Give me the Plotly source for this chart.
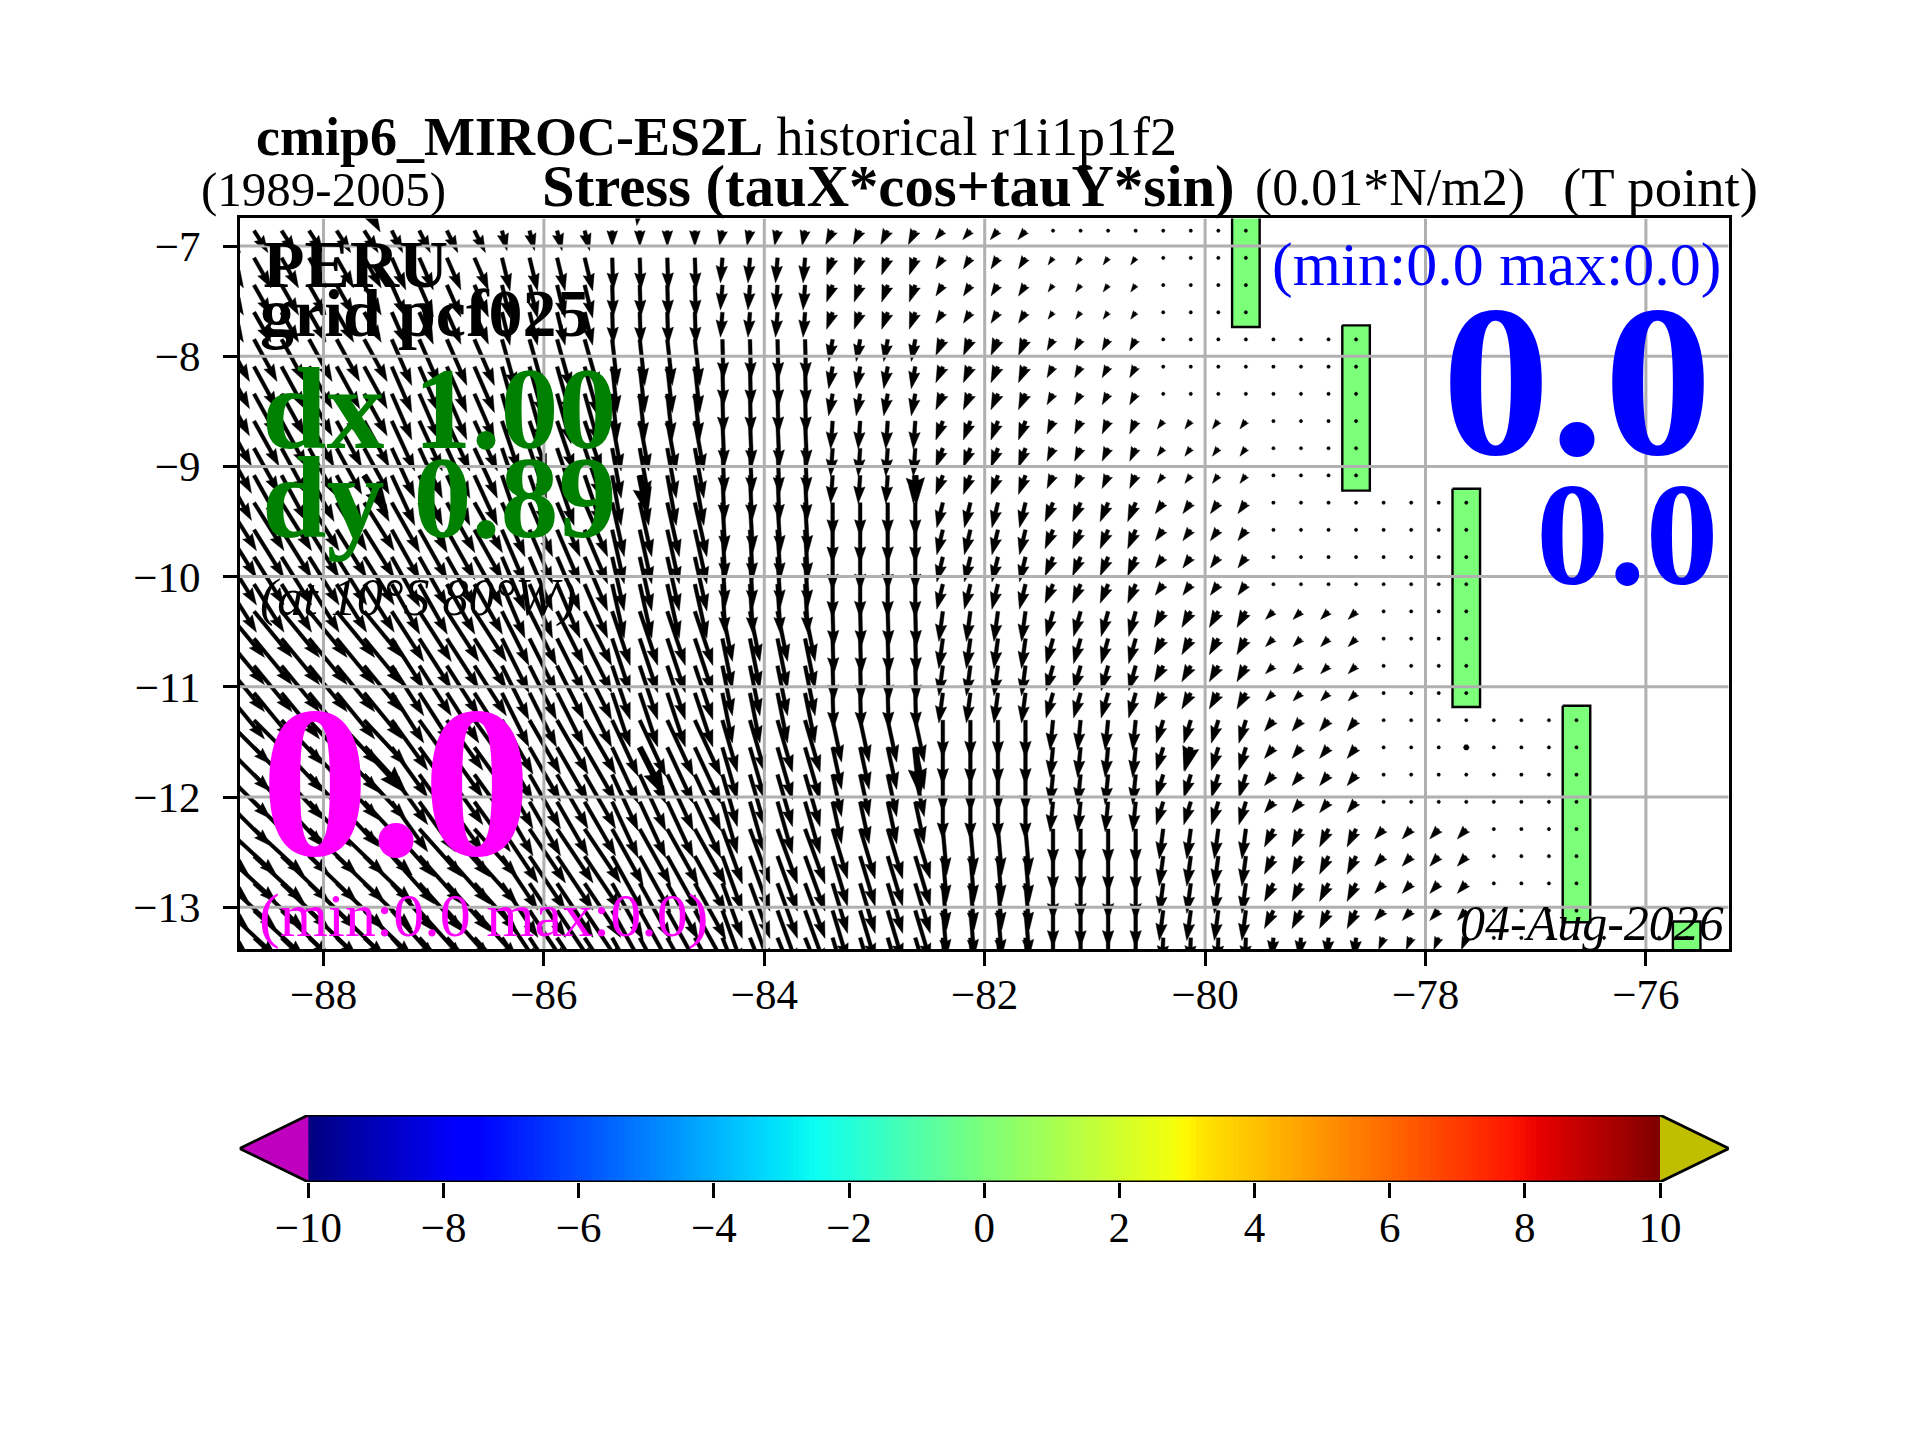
import numpy as np
import plotly.graph_objects as go

# ---------- data ----------
# longitude of the last column of every coarse model cell (each spans four 0.25 degree columns)
cell_lons = [-88.63, -87.63, -86.63, -85.63, -84.63, -83.63, -82.63,
             -81.63, -80.63, -79.63, -78.63, -77.63, -76.63, -75.63]
# how many of the fine rows belong to every coarse row, from north to south
cell_rows = [1, 3, 3, 3, 4, 4, 4, 4, 1]
first_lat = -6.861
row_step = 0.2468
col_step = 0.25
_ = None
tau_u_0 = [14, 14, 11, 5, 0, -3, -7, -7.7, 0, 0, _, _, _, _]
tau_v_0 = [22, 22, 22, 20, 16, 15, 14, 9, 0, 0, _, _, _, _]
tau_u_1 = [17, 17, 14, 8, 1, -2, -6, -7, -5, 0, _, _, _, _]
tau_v_1 = [30, 30, 32, 33, 32, 25, 17, 11, 7, 0, _, _, _, _]
tau_u_2 = [23, 23, 20, 14, 5, 1, -4, -7, -6, 0, 0, _, _, _]
tau_v_2 = [42, 42, 46, 50, 46, 40, 22, 16, 11, 0, 0, _, _, _]
tau_u_3 = [25, 25, 23, 17, 9, 2, -2, -7, -6, -6, 0, _, _, _]
tau_v_3 = [45, 46, 50, 50, 50, 46, 28, 19, 13, 8, 0, _, _, _]
tau_u_4 = [30, 30, 28, 23, 12, 3, 0, -6, -8, -8, 0, 0, _, _]
tau_v_4 = [48, 48, 50, 54, 54, 50, 34, 25, 19, 11, 0, 0, _, _]
tau_u_5 = [38, 38, 32, 27, 18, 10, 1, -4, -7, -9, -8, 0, _, _]
tau_v_5 = [46, 46, 50, 54, 54, 50, 36, 30, 25, 16, 8, 0, _, _]
tau_u_6 = [44, 42, 36, 31, 26, 15, 9, 0, -3, -7, -9, 0, 0, _]
tau_v_6 = [44, 45, 50, 54, 56, 52, 42, 38, 30, 23, 11, 0, 0, _]
tau_u_7 = [50, 48, 43, 36, 31, 20, 15, 4, 0, -4, -9, -9, 0, _]
tau_v_7 = [46, 46, 48, 54, 56, 55, 50, 46, 37, 30, 18, 10, 0, _]
tau_u_8 = [50, 48, 43, 36, 31, 22, 15, 4, 0, -1, -2, -5, 0, 0]
tau_v_8 = [46, 46, 48, 54, 56, 55, 50, 46, 37, 25, 20, 12, 0, 0]
tau_u = [tau_u_0, tau_u_1, tau_u_2, tau_u_3, tau_u_4, tau_u_5, tau_u_6, tau_u_7, tau_u_8]
tau_v = [tau_v_0, tau_v_1, tau_v_2, tau_v_3, tau_v_4, tau_v_5, tau_v_6, tau_v_7, tau_v_8]

# second, heavier set of arrows on a 2.5 degree raster
thick_lon = [-87.63, -85.13, -87.63, -85.13, -82.63, -87.63, -85.13, -82.63, -80.13, -77.63]
thick_lat = [-6.614, -6.614, -9.082, -9.082, -9.082, -11.55, -11.55, -11.55, -11.55, -11.55]
thick_u = [16, -3, 24, 8, 1, 42, 25, 5, -6, 0]
thick_v = [28.5, 22, 38, 40, 30, 46, 49, 49, 24, 0]

# cells drawn in the mid colour of the scale
land_west = [-79.755, -78.755, -77.755, -76.755, -75.755]
land_east = [-79.505, -78.505, -77.505, -76.505, -75.505]
land_north = [-6.5, -7.72, -9.203, -11.172, -13.13]
land_south = [-7.735, -9.22, -11.183, -13.136, -13.6]

x_ticks = [-88, -86, -84, -82, -80, -78, -76]
y_ticks = [-7, -8, -9, -10, -11, -12, -13]
bar_ticks = [-10, -8, -6, -4, -2, 0, 2, 4, 6, 8, 10]
jet_stops = [[0, '#00007f'], [0.11, '#0000ff'], [0.125, '#0000ff'], [0.34, '#00dbff'],
             [0.35, '#00e5f7'], [0.375, '#0cfff3'], [0.5, '#7cff79'], [0.64, '#f3ff0c'],
             [0.65, '#fff800'], [0.66, '#ffe600'], [0.89, '#ff1600'], [0.91, '#e80000'],
             [1, '#7f0000']]

# ---------- layout constants ----------
W, H = 1920, 1440
OX, OY = -8, -8   # the page body has an 8 px margin
PX_PER_DEG = 110.2
AX_L, AX_R, AX_T, AX_B = 239.8, 1728.6, 218.4, 949.0
X_RANGE = [-88 + (AX_L - 323.5) / PX_PER_DEG, -88 + (AX_R - 323.5) / PX_PER_DEG]
Y_RANGE = [-7 - (AX_B - 246.0) / PX_PER_DEG, -7 - (AX_T - 246.0) / PX_PER_DEG]
SERIF = 'Liberation Serif'
AXW = 2.6


def arrows(lons, lats, us, vs, width):
    """quiver polygons; us/vs are in picture pixels, width too."""
    xs, ys = [], []
    hl, hal, hw = 4.6, 4.2, 3.1
    for lon, lat, u, v in zip(lons, lats, us, vs):
        length = float(np.hypot(u, v)) / width
        if length < 1.0:
            th = np.arange(0, 7) * np.pi / 3
            px = np.cos(th) * 0.5
            py = np.sin(th) * 0.5
            ca, sa = 1.0, 0.0
        else:
            if length >= hl:
                px = np.array([0, length - hal, length - hl, length, length - hl, length - hal, 0, 0])
                py = 0.5 * np.array([1, 1, hw, 0, -hw, -1, -1, 1])
            else:
                s = length / hl
                px = s * np.array([0, hl - hal, 0, hl, 0, hl - hal, 0, 0])
                py = s * 0.5 * np.array([1, 1, hw, 0, -hw, -1, -1, 1])
            ca, sa = u / (length * width), -v / (length * width)
        dx = (px * ca - py * sa) * width / PX_PER_DEG
        dy = (px * sa + py * ca) * width / PX_PER_DEG
        xs += list(lon + dx) + [None]
        ys += list(lat + dy) + [None]
    return xs, ys


fine_lon, fine_lat, fine_u, fine_v = [], [], [], []
row = 0
for b, n in enumerate(cell_rows):
    for _r in range(n):
        lat = first_lat - row_step * row
        row += 1
        for g, end_lon in enumerate(cell_lons):
            if tau_u[b][g] is None:
                continue
            for k in range(4):
                fine_lon.append(end_lon - col_step * k)
                fine_lat.append(lat)
                fine_u.append(tau_u[b][g])
                fine_v.append(tau_v[b][g])

fig = go.Figure()

# land cells
lx, ly = [], []
for w, e, n, s in zip(land_west, land_east, land_north, land_south):
    lx += [w, e, e, w, w, None]
    ly += [n, n, s, s, n, None]
fig.add_trace(go.Scatter(x=lx, y=ly, mode='lines', fill='toself', fillcolor='#7cff79',
                         line=dict(color='black', width=2.4), hoverinfo='skip', showlegend=False))

# quiver
qx, qy = arrows(fine_lon, fine_lat, fine_u, fine_v, 3.7)
fig.add_trace(go.Scatter(x=qx, y=qy, mode='lines', fill='toself', fillcolor='black',
                         line=dict(color='black', width=0.4, simplify=False),
                         hoverinfo='skip', showlegend=False))
tx, ty = arrows(thick_lon, thick_lat, thick_u, thick_v, 6.0)
fig.add_trace(go.Scatter(x=tx, y=ty, mode='lines', fill='toself', fillcolor='black',
                         line=dict(color='black', width=0.4, simplify=False),
                         hoverinfo='skip', showlegend=False))

# grid on top of the arrows
gx, gy = [], []
for t in x_ticks:
    gx += [t, t, None]
    gy += [Y_RANGE[0], Y_RANGE[1], None]
for t in y_ticks:
    gx += [X_RANGE[0], X_RANGE[1], None]
    gy += [t, t, None]
fig.add_trace(go.Scatter(x=gx, y=gy, mode='lines', line=dict(color='#b0b0b0', width=3),
                         hoverinfo='skip', showlegend=False))

# colour bar
BAR_L, BAR_R, BAR_T, BAR_B = 308.4, 1660.0, 1115.0, 1182.0
TIP_L, TIP_R = 239.6, 1728.9
bar_px = (BAR_R - BAR_L) / 20.0
bar_range = [-10 - (BAR_L - TIP_L) / bar_px, 10 + (TIP_R - BAR_R) / bar_px]
bar_levels = np.linspace(-10, 10, 256)
fig.add_trace(go.Heatmap(x=bar_levels, y=[0, 1], z=[bar_levels, bar_levels], zmin=-10, zmax=10,
                         colorscale=jet_stops, showscale=False, xaxis='x2', yaxis='y2',
                         hoverinfo='skip'))
fig.add_trace(go.Scatter(x=[-10, bar_range[0], -10, -10], y=[0, 0.5, 1, 0], mode='lines', fill='toself',
                         fillcolor='#bf00bf', line=dict(width=0), xaxis='x2', yaxis='y2',
                         hoverinfo='skip', showlegend=False))
fig.add_trace(go.Scatter(x=[10, bar_range[1], 10, 10], y=[0, 0.5, 1, 0], mode='lines', fill='toself',
                         fillcolor='#bfbf00', line=dict(width=0), xaxis='x2', yaxis='y2',
                         hoverinfo='skip', showlegend=False))
fig.add_trace(go.Scatter(x=[-10, bar_range[0], -10, 10, bar_range[1], 10, -10], y=[0, 0.5, 1, 1, 0.5, 0, 0],
                         mode='lines', line=dict(color='black', width=2.8), xaxis='x2', yaxis='y2',
                         cliponaxis=False, hoverinfo='skip', showlegend=False))

annotations = []


def text(s, cx, base, size, color='black', bold=False, italic=False):
    if bold:
        s = '<b>' + s + '</b>'
    if italic:
        s = '<i>' + s + '</i>'
    bottom = base + 0.216 * size + 1
    annotations.append(dict(text=s, x=(cx + OX) / W, y=1 - (bottom + OY) / H, xref='paper', yref='paper',
                            xanchor='center', yanchor='bottom', showarrow=False,
                            font=dict(family=SERIF, size=size, color=color)))


text('<b>cmip6_MIROC-ES2L</b> historical r1i1p1f2', 716, 156, 54)
text('(1989-2005)', 323, 207, 49)
text('Stress (tauX*cos+tauY*sin)', 888, 207, 58.7, bold=True)
text('(0.01*N/m2)', 1390, 207, 52)
text('(T point)', 1660, 207, 54.7)
text('PERU', 355, 288, 68, bold=True)
text('grid pcf025', 425, 337, 68, bold=True)
text('dx 1.00', 439, 449, 116, color='green', bold=True)
text('dy 0.89', 439, 538, 116, color='green', bold=True)
text('(at 10°S 80°W)', 418, 617, 52, italic=True)
text('0.0', 396, 856, 216, color='magenta', bold=True)
text('(min:0.0 max:0.0)', 483, 938, 62, color='magenta')
text('(min:0.0 max:0.0)', 1496, 287, 62, color='blue')
text('0.0', 1577, 455, 216, color='blue', bold=True)
text('0.0', 1627, 585, 146, color='blue', bold=True)
text('04-Aug-2026', 1592, 941, 50, italic=True)

fig.update_layout(
    width=W, height=H, autosize=False,
    margin=dict(l=0, r=0, t=0, b=0, pad=0),
    paper_bgcolor='white', plot_bgcolor='white',
    font=dict(family=SERIF, color='black'),
    showlegend=False,
    annotations=annotations,
    xaxis=dict(domain=[(AX_L + OX) / W, (AX_R + OX) / W], range=X_RANGE, tickvals=x_ticks,
               ticks='outside', ticklen=14, tickwidth=AXW, tickcolor='black',
               showline=True, linewidth=AXW, linecolor='black', mirror=True, showgrid=False,
               zeroline=False, tickfont=dict(family=SERIF, size=43), ticklabelstandoff=-8),
    yaxis=dict(domain=[1 - (AX_B + OY) / H, 1 - (AX_T + OY) / H], range=Y_RANGE, tickvals=y_ticks,
               ticks='outside', ticklen=14, tickwidth=AXW, tickcolor='black',
               showline=True, linewidth=AXW, linecolor='black', mirror=True, showgrid=False,
               zeroline=False, tickfont=dict(family=SERIF, size=43), ticklabelstandoff=14),
    xaxis2=dict(domain=[(TIP_L + OX) / W, (TIP_R + OX) / W], range=bar_range, anchor='y2',
                tickvals=bar_ticks, ticks='outside', ticklen=15, tickwidth=AXW, tickcolor='black',
                showline=False, showgrid=False, zeroline=False,
                tickfont=dict(family=SERIF, size=43), ticklabelstandoff=-8),
    yaxis2=dict(domain=[1 - (BAR_B + OY) / H, 1 - (BAR_T + OY) / H], range=[0, 1], anchor='x2',
                showticklabels=False, ticks='', showline=False, showgrid=False, zeroline=False),
)
fig.write_html("out.html")
